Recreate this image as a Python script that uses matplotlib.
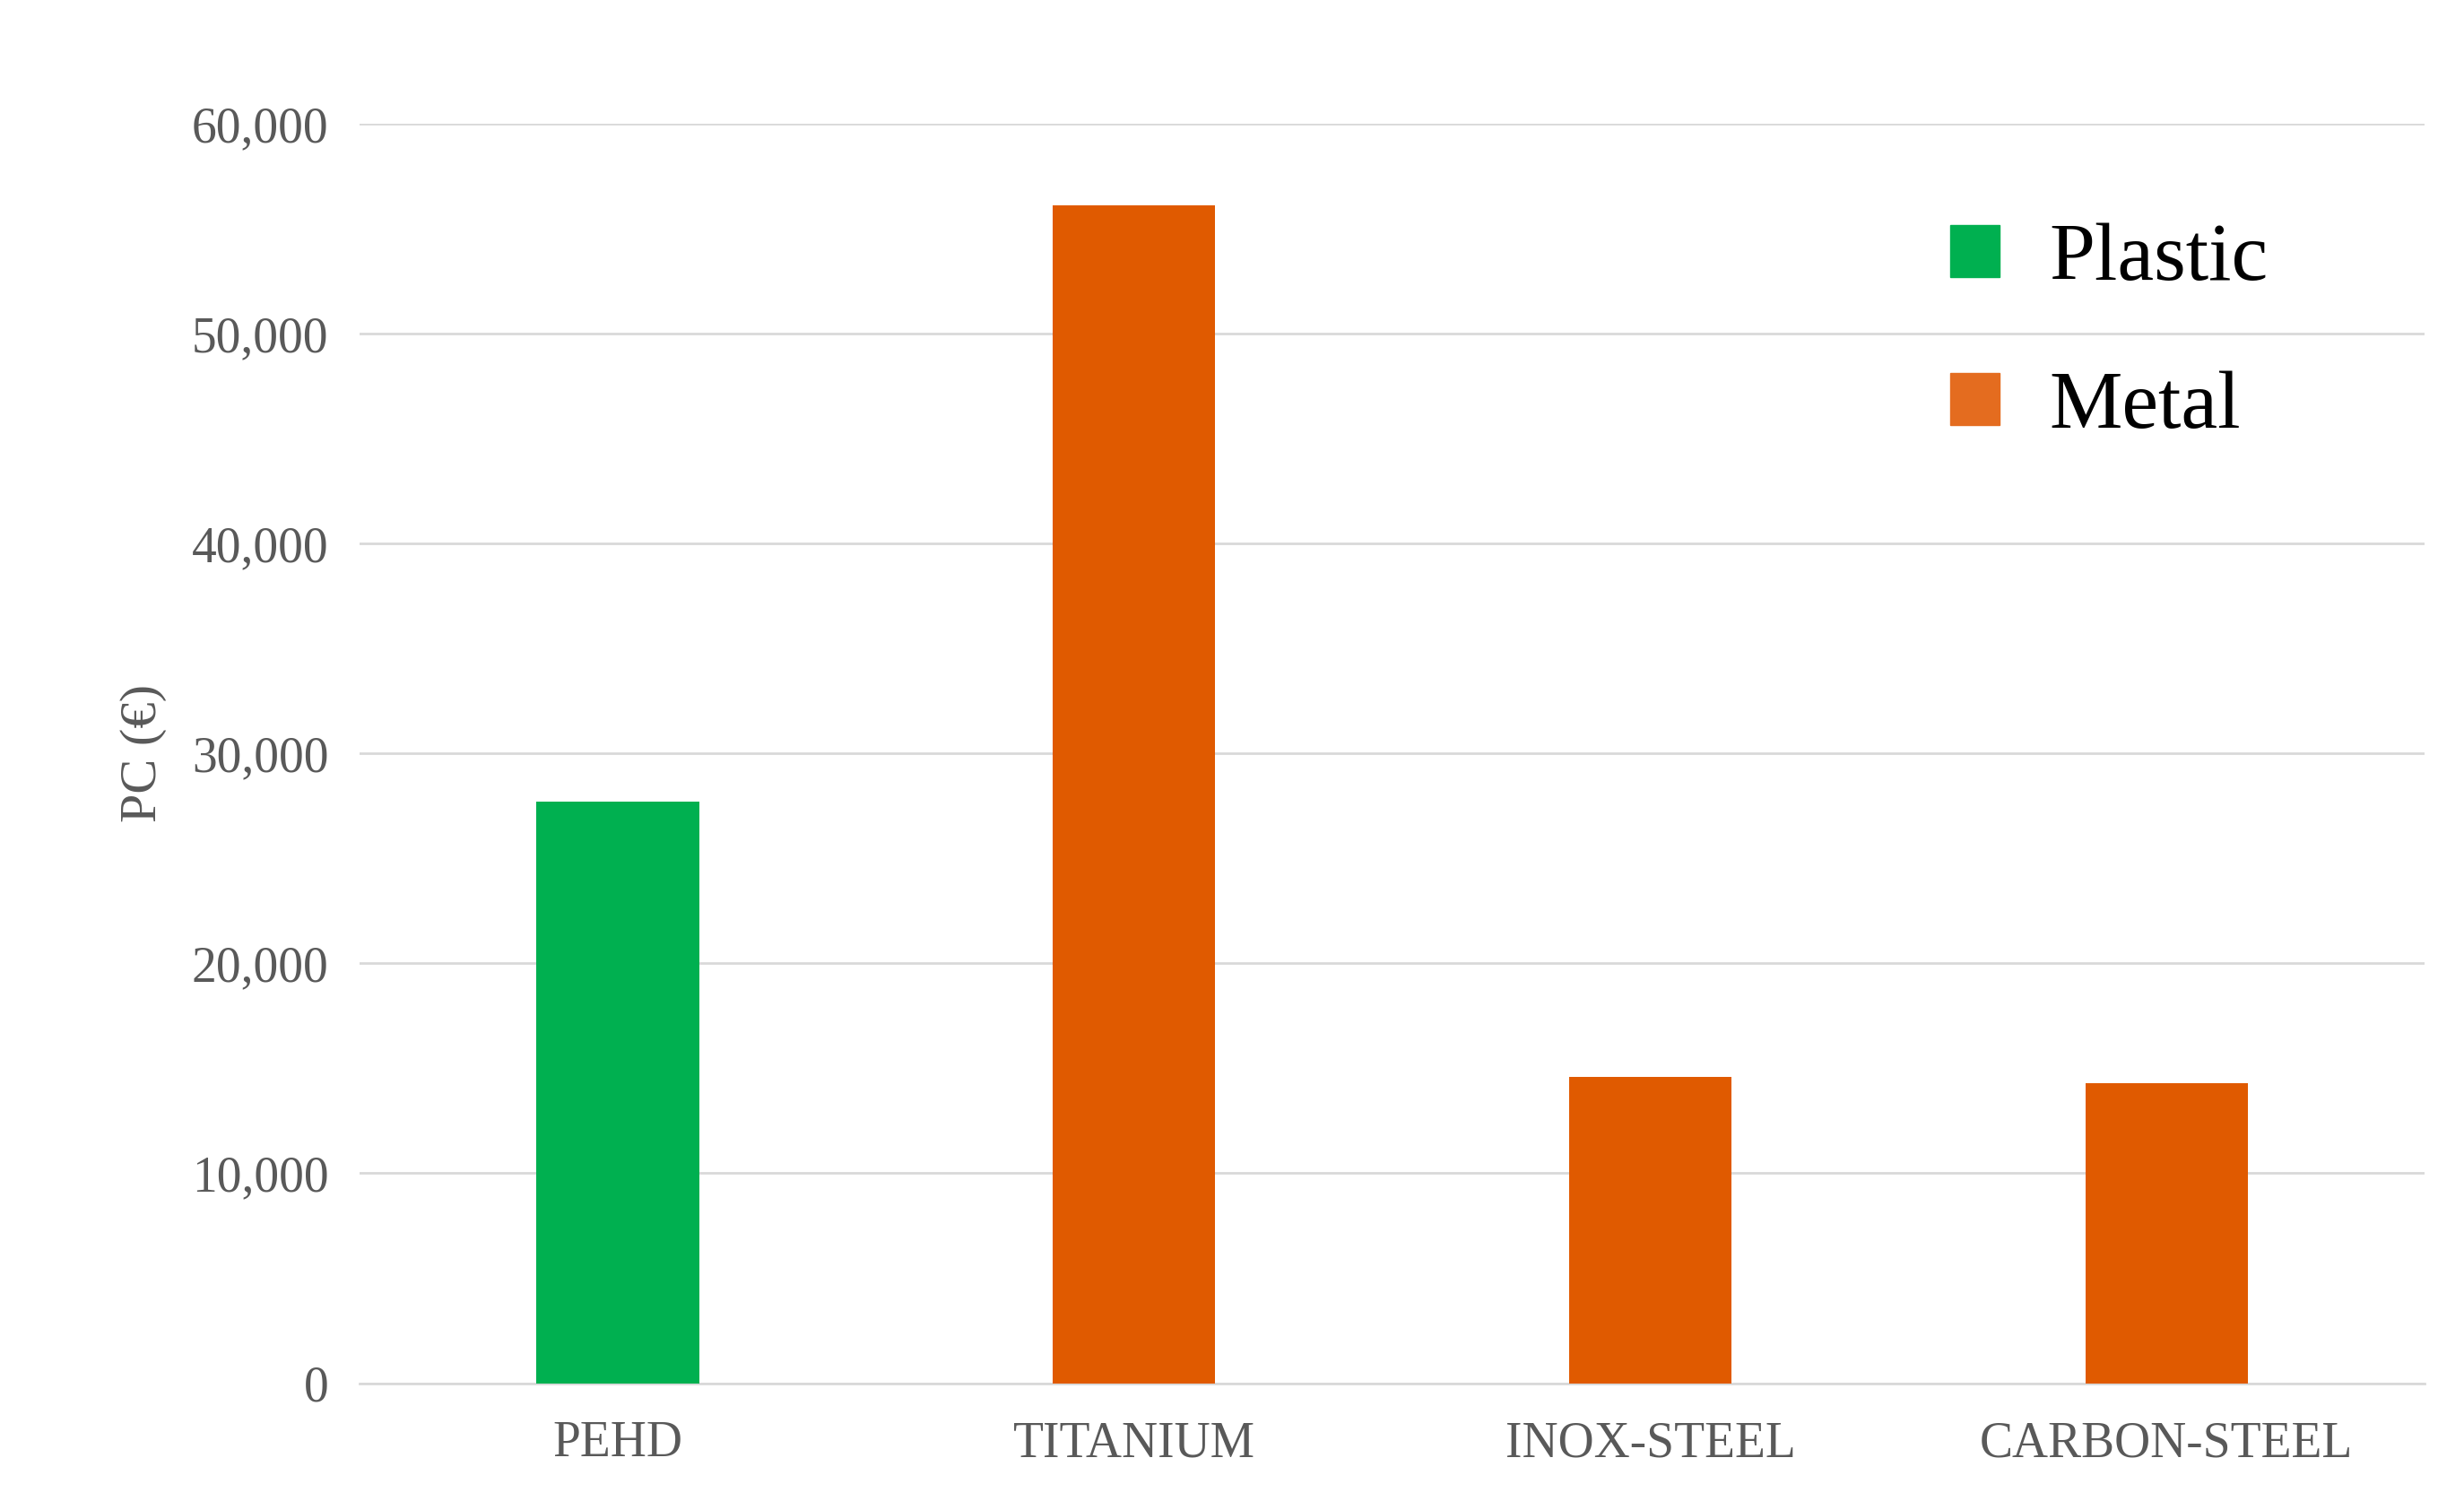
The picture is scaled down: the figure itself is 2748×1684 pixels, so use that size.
import matplotlib
matplotlib.use("Agg")
import matplotlib.pyplot as plt
from matplotlib.patches import Patch

categories = ["PEHD", "TITANIUM", "INOX-STEEL", "CARBON-STEEL"]
values = [27700, 56100, 14600, 14300]
groups = ["Plastic", "Metal", "Metal", "Metal"]
yticks = [0, 10000, 20000, 30000, 40000, 50000, 60000]

colors = {"Plastic": "#00B050", "Metal": "#E05A00"}
plt.rcParams['font.family'] = ['Liberation Serif', 'DejaVu Serif']

fig = plt.figure(figsize=(27.48, 16.84), dpi=100)
ax = fig.add_axes([0.146, 0.084, 0.838, 0.834])
x = range(len(categories))
ax.bar(x, values, width=0.315, color=[colors[g] for g in groups], zorder=3)
ax.set_ylim(0, 60000)
ax.set_xlim(-0.5, 3.5)
ax.set_yticks(yticks)
ax.set_yticklabels([f"{v:,}" for v in yticks])
ax.set_xticks(list(x))
ax.set_xticklabels(categories)
ax.tick_params(axis='both', length=0, labelsize=40, colors="#595959", pad=25)
ax.tick_params(axis='x', pad=30)
ax.grid(axis='y', color="#D9D9D9", linewidth=2, zorder=0)
for s in ["top", "right", "left"]:
    ax.spines[s].set_visible(False)
ax.spines["bottom"].set_color("#D9D9D9")
ax.spines["bottom"].set_linewidth(2)
ax.set_ylabel("PC (€)", fontsize=42, color="#595959", labelpad=20)
handles = [Patch(color=colors["Plastic"], label="Plastic"), Patch(color="#E46C1F", label="Metal")]
ax.legend(handles=handles, loc="upper right", bbox_to_anchor=(0.96, 0.98), frameon=False,
          fontsize=66, handlelength=0.6, handleheight=0.6, labelspacing=0.9, handletextpad=0.6)
fig.savefig("out.png", dpi=100, facecolor="white")
